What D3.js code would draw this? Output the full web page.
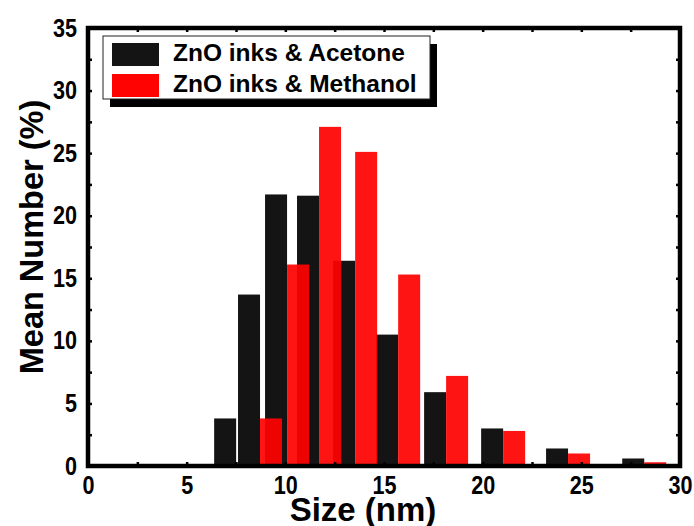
<!DOCTYPE html>
<html>
<head>
<meta charset="utf-8">
<script src="https://cdn.jsdelivr.net/npm/d3@7"></script>
<style>
  body { margin: 0; background: #fff; }
  text { font-family: "Liberation Sans", Arial, sans-serif; font-weight: bold; fill: #000; }
</style>
</head>
<body>
<svg id="chart"></svg>
<script>
// size bins (nm), bin centre of the acetone bar
const sizes = [6.95, 8.16, 9.53, 11.15, 12.98, 15.16, 17.59, 20.48, 23.77, 27.63];
const acetone = [3.8, 13.7, 21.7, 21.6, 16.4, 10.5, 5.9, 3.0, 1.4, 0.6];
const methanol = [0, 3.8, 16.1, 27.1, 25.1, 15.3, 7.2, 2.8, 1.0, 0.3];
const seriesNames = ['ZnO inks & Acetone', 'ZnO inks & Methanol'];
const xTicks = [0, 5, 10, 15, 20, 25, 30];
const yTicks = [0, 5, 10, 15, 20, 25, 30, 35];

const width = 694, height = 526;
const margin = { top: 28, right: 14, bottom: 60, left: 88 };
const innerWidth = width - margin.left - margin.right;
const innerHeight = height - margin.top - margin.bottom;
const barWidth = 22;
const colors = ['#141414', '#ff0202'];

const svg = d3.select('#chart').attr('width', width).attr('height', height);

const x = d3.scaleLinear().domain([0, 30]).range([0, innerWidth]);
const y = d3.scaleLinear().domain([0, 35]).range([innerHeight, 0]);

const g = svg.append('g').attr('transform', `translate(${margin.left},${margin.top})`);

const rows = sizes.map((s, i) => ({ size: s, a: acetone[i], m: methanol[i] }));

g.selectAll('.bar-a')
  .data(rows)
  .enter()
  .append('rect')
  .attr('class', 'bar-a')
  .attr('x', d => x(d.size) - barWidth / 2)
  .attr('y', d => y(d.a))
  .attr('width', barWidth)
  .attr('height', d => innerHeight - y(d.a))
  .attr('fill', colors[0]);

g.selectAll('.bar-m')
  .data(rows.filter(d => d.m > 0))
  .enter()
  .append('rect')
  .attr('class', 'bar-m')
  .attr('x', d => x(d.size) + barWidth / 2)
  .attr('y', d => y(d.m))
  .attr('width', barWidth)
  .attr('height', d => innerHeight - y(d.m))
  .attr('fill', colors[1])
  .attr('fill-opacity', 0.93);

// minor ticks on all four sides
const minor = d3.range(0, 30.01, 2.5);
const minorY = d3.range(0, 35.01, 2.5);
const tickAxes = [
  [d3.axisBottom(x).tickValues(minor), `translate(0,${innerHeight})`],
  [d3.axisTop(x).tickValues(minor), 'translate(0,0)'],
  [d3.axisLeft(y).tickValues(minorY), 'translate(0,0)'],
  [d3.axisRight(y).tickValues(minorY), `translate(${innerWidth},0)`]
];
tickAxes.forEach(([axis, t]) => {
  const a = g.append('g').attr('transform', t)
    .call(axis.tickSizeInner(-4).tickSizeOuter(0).tickFormat(''));
  a.select('.domain').remove();
  a.selectAll('line').attr('stroke', '#000').attr('stroke-width', 2.5);
});

// frame
g.append('rect')
  .attr('x', 0).attr('y', 0)
  .attr('width', innerWidth).attr('height', innerHeight)
  .attr('fill', 'none').attr('stroke', '#000').attr('stroke-width', 4.5);

// tick labels (condensed digits like the original)
const styleTicks = sel => sel.selectAll('text')
  .style('font-size', '25px')
  .style('font-family', '"Liberation Sans", Arial, sans-serif')
  .style('font-weight', 'bold')
  .attr('lengthAdjust', 'spacingAndGlyphs')
  .attr('textLength', function () { return this.textContent.length * 12; });

const xa = g.append('g').attr('transform', `translate(0,${innerHeight})`)
  .call(d3.axisBottom(x).tickValues(xTicks).tickSize(0).tickPadding(10).tickFormat(d3.format('d')));
xa.select('.domain').remove();
styleTicks(xa);

const ya = g.append('g')
  .call(d3.axisLeft(y).tickValues(yTicks).tickSize(0).tickPadding(11).tickFormat(d3.format('d')));
ya.select('.domain').remove();
styleTicks(ya);

// axis titles
svg.append('text')
  .attr('x', 363).attr('y', 521)
  .attr('text-anchor', 'middle')
  .style('font-size', '33px')
  .text('Size (nm)');

svg.append('text')
  .attr('transform', 'translate(43,237) rotate(-90)')
  .attr('text-anchor', 'middle')
  .style('font-size', '32.5px')
  .text('Mean Number (%)');

// legend with drop shadow
const legend = svg.append('g').attr('transform', 'translate(103,36)');
legend.append('rect')
  .attr('x', 7).attr('y', 8).attr('width', 327).attr('height', 63)
  .attr('fill', '#000');
legend.append('rect')
  .attr('x', 0).attr('y', 0).attr('width', 327).attr('height', 63)
  .attr('fill', '#fff').attr('stroke', '#222').attr('stroke-width', 1);

seriesNames.forEach((name, i) => {
  legend.append('rect')
    .attr('x', 9).attr('y', 7 + i * 31)
    .attr('width', 47).attr('height', 23)
    .attr('fill', colors[i]);
  legend.append('text')
    .attr('x', 70).attr('y', 25 + i * 31)
    .style('font-size', '24.5px')
    .text(name);
});
</script>
</body>
</html>
